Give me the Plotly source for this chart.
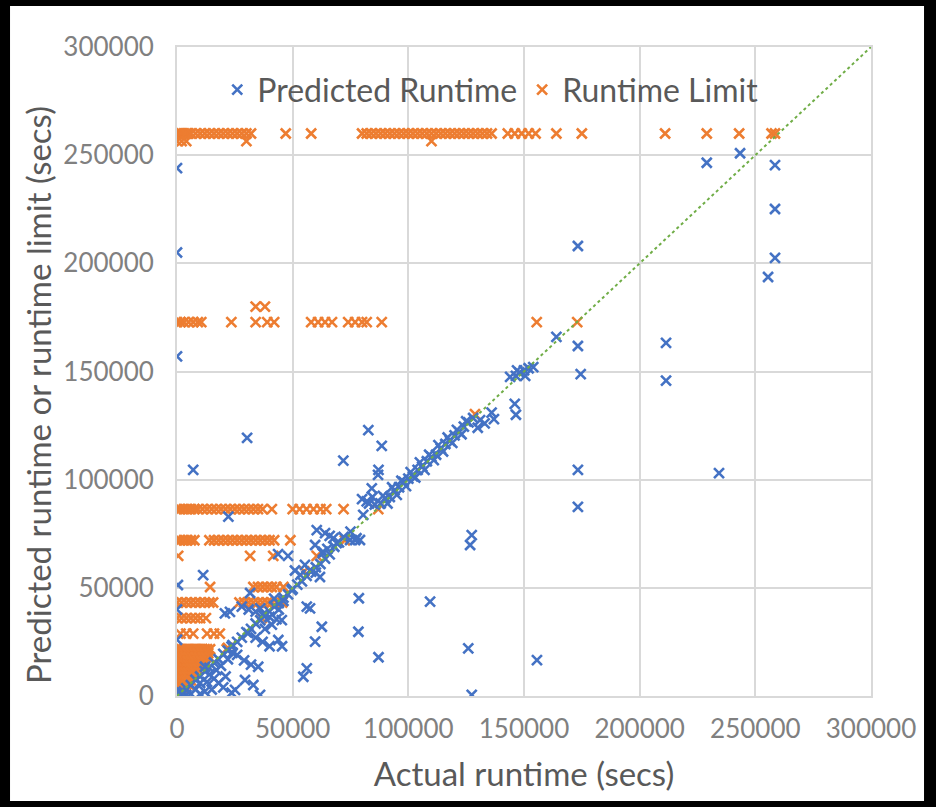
import plotly.graph_objects as go

BLUE = "#4472C4"
ORANGE = "#ED7D31"
GREEN = "#70AD47"

# ---------------- Predicted Runtime (blue) ----------------
pred_x = [
    0, 0, 0, 229000, 243400, 258500, 258500, 258500, 255500,
    173300, 173300, 174500, 211400, 211400, 173300, 173300, 234300, 164000,
    30300, 7000, 71900, 82700, 88500, 87100, 86900, 84200,
    22200, 11300, 400, 78600, 109400, 127400, 126700, 57500, 62600, 59700, 78400, 87100, 56100, 54600, 125900, 127400, 155600,
    144000, 146500, 148000, 150000, 152000, 154000, 147000, 150500, 146000, 146500, 130000, 133000, 136000, 137000, 131000,
    88000, 90000, 92000, 94000, 96000, 98000, 100000, 102000, 104000, 106000, 108000, 110000, 112000, 114000, 116000,
    118000, 120000, 122000, 124000, 126000, 128000,
    91000, 95000, 99000, 103000, 107000, 111000, 115000, 119000, 123000, 97000, 101000, 105000, 109000, 113000, 117000,
    121000, 125000, 93000, 89000,
    80000, 82000, 84500, 80500, 83000, 85500,
    64000, 67600, 74800, 77000, 79100, 59700, 63100, 43700, 48000, 55300, 57500, 60000, 61800, 51000, 53300, 49600, 56100,
    60400, 66000, 69000, 77600, 31600, 63000, 65000, 70000, 72000, 75000, 68000,
    20700, 22900, 28000, 31000, 34000, 37000, 40000, 43000, 45300, 30800, 34000, 37000, 40000, 43800, 45400, 23600, 26000,
    29000, 32000, 35100, 25100, 29400, 33000, 35900, 38000, 41000, 44000, 46000, 36000, 42000,
    12100, 14000, 16000, 18000, 20000, 21000, 23600, 15000, 13000, 17000, 19000, 22000, 24000, 10000, 8000, 6000, 4000,
    2000, 1000, 3000, 12000, 10000,
    2000, 4000, 6000, 8000, 10000, 12000, 14000, 16000, 18000, 20000, 22000, 24000, 26000, 28000, 30000, 32000, 34000,
    36000, 38000, 40000, 42000, 44000, 46000, 48000, 50000, 52000, 54000, 56000, 58000, 60000, 62000, 64000, 66000,
    0, 0,
]
pred_y = [
    244000, 205000, 157000, 246500, 250900, 245400, 225100, 202500, 193700,
    208000, 161800, 148800, 163200, 145800, 104500, 87400, 103000, 166000,
    119300, 104500, 108800, 122900, 115600, 104500, 102200, 96000,
    82900, 55900, 51300, 45200, 43600, 74400, 69800, 40500, 32000, 25100, 29700, 17900, 12800, 8900, 22000, 500, 16600,
    147500, 148000, 149500, 150500, 151500, 152000, 150500, 148000, 135000, 130000, 124000, 126000, 131000, 128000, 127500,
    89000, 91500, 92000, 95000, 96500, 99000, 100500, 101500, 104500, 106000, 108500, 110500, 111500, 114500, 116500,
    118000, 120500, 122000, 124500, 126500, 128500,
    89000, 93000, 97000, 101000, 104500, 109000, 113000, 117000, 121000, 99500, 103500, 108000, 111500, 116000, 119500,
    123000, 127000, 96500, 92500,
    91000, 90000, 92000, 83700, 89000, 88500,
    75300, 73000, 72100, 72100, 72100, 69800, 66700, 65600, 64800, 60600, 58000, 57000, 55000, 58000, 56000, 49000, 41300,
    76700, 74000, 70700, 72900, 47600, 66000, 68000, 71000, 73500, 76000, 69000,
    38200, 38900, 41300, 40000, 39000, 37500, 36500, 35500, 35100, 29100, 27000, 25000, 23000, 25900, 23000, 22800, 19000,
    16500, 14500, 13500, 2800, 7400, 5100, 500, 31000, 33000, 40000, 44000, 40500, 45000,
    13500, 10000, 8000, 6000, 4000, 9000, 1500, 3000, 6500, 12000, 14000, 17000, 20000, 6000, 3000, 1000, 500,
    300, 1500, 2000, 2000, 1000,
    1500, 3500, 5000, 7500, 9000, 11500, 13000, 15500, 17000, 19500, 21000, 23500, 25000, 27000, 29500, 31000, 33500,
    35000, 37500, 39000, 41500, 43000, 45500, 47000, 49500, 51500, 53000, 55500, 57500, 59500, 61000, 63500, 65500,
    26000, 40000,
]

# ---------------- Runtime Limit (orange), grouped by limit level ----------------
limit_levels = [260000, 256500, 180000, 172800, 86400, 72000, 64800, 50400, 43200, 36000, 28800,
                21600, 19800, 18000, 16200, 14400, 12600, 10800, 9000, 7200, 5400, 3600, 1800, 900]
limit_actuals = [
    [0, 1000, 2000, 3000, 4000, 5000, 6000, 8000, 10000, 12000, 14000, 16000, 18000, 20000, 22000, 24000, 26000,
     28000, 30000, 32000, 47000, 58000, 80000, 82000, 84000, 86000, 88000, 90000, 92000, 94000, 96000, 98000, 100000,
     102000, 104000, 106000, 108000, 110000, 112000, 114000, 116000, 118000, 120000, 122000, 124000, 126000, 128000,
     130000, 132000, 134000, 136000, 143000, 146000, 149000, 152000, 155000, 164000, 175000, 211000, 229000, 243000,
     257000, 258500],
    [0, 2000, 4000, 30000, 110000],
    [34000, 38000],
    [0, 1500, 3000, 5000, 7000, 9000, 10500, 23500, 34000, 39000, 42000, 58000, 61000, 64000, 67000, 74000, 77000,
     80000, 82000, 88500, 155500, 173000],
    [0, 1500, 3000, 4500, 6000, 7500, 9000, 11000, 13000, 15000, 17000, 19000, 21000, 23000, 25000, 27000, 29000,
     31000, 33000, 35000, 37000, 41000, 50000, 53000, 56000, 59000, 62000, 64500, 72000, 87000],
    [0, 1500, 3000, 4500, 6000, 7500, 14000, 16000, 18000, 20000, 22000, 24000, 26000, 28000, 30000, 32000, 34000,
     36000, 38000, 40000, 42000, 49000, 72600],
    [500, 31600, 41600, 60400],
    [14300, 33000, 35000, 37000, 39000, 41000, 43000, 46000],
    [0, 2000, 4000, 6000, 8000, 10000, 12000, 14000, 15600, 27000, 29000, 31000, 33000, 35000, 37000, 39000, 41000,
     43000, 45500],
    [0, 2000, 4000, 6000, 8000, 10000, 12500, 36600],
    [1500, 4000, 7000, 13000, 16000, 18500],
    [0, 1000, 2000, 3000, 4000, 5000, 6000, 7000, 8000, 9000, 10000, 11000, 12000, 13000, 14300, 21500],
    [0, 1500, 3000, 4500, 6000, 7500, 9000, 10500, 12000, 13500],
    [0, 1200, 2500, 3800, 5000, 6500, 8000, 9500, 11000, 12500, 14000],
    [0, 1500, 3000, 4500, 6000, 7500, 9000, 10500, 12000],
    [0, 1000, 2200, 3500, 4800, 6000, 7200, 8500, 10000, 11000],
    [0, 1500, 3000, 4500, 6000, 7500, 9000],
    [0, 1200, 2400, 3600, 4800, 6000, 7200, 8000],
    [0, 1500, 3000, 4500, 6000, 7000],
    [0, 1000, 2000, 3000, 4000, 5000, 6000],
    [0, 1300, 2600, 3900, 5000],
    [0, 900, 1800, 2700, 3500],
    [0, 600, 1200, 1800],
    [0, 400, 900],
]
extra_limit_x = [55000, 128800, 22000]
extra_limit_y = [57600, 130300, 22200]

limit_x, limit_y = [], []
for level, xs in zip(limit_levels, limit_actuals):
    limit_x.extend(xs)
    limit_y.extend([level] * len(xs))
limit_x.extend(extra_limit_x)
limit_y.extend(extra_limit_y)

# ideal prediction line
diag_x = [0, 300000]
diag_y = [0, 300000]

tick_vals = [0, 50000, 100000, 150000, 200000, 250000, 300000]
tick_text = ["0", "50000", "100000", "150000", "200000", "250000", "300000"]

FONT = "Lato"
MARK = dict(symbol="x-thin", size=10)

fig = go.Figure()
fig.add_trace(go.Scatter(
    x=limit_x, y=limit_y, mode="markers", name="Runtime Limit", legendrank=2,
    marker=dict(MARK, color=ORANGE, line=dict(width=2.6, color=ORANGE)),
))
fig.add_trace(go.Scatter(
    x=pred_x, y=pred_y, mode="markers", name="Predicted Runtime", legendrank=1,
    marker=dict(MARK, color=BLUE, line=dict(width=2.6, color=BLUE)),
))
fig.add_trace(go.Scatter(
    x=diag_x, y=diag_y, mode="lines", showlegend=False, hoverinfo="skip",
    line=dict(color=GREEN, width=2, dash="dot"),
))

axis_common = dict(
    range=[0, 300000], tickvals=tick_vals, ticktext=tick_text, automargin=False,
    showgrid=True, gridcolor="#D9D9D9", gridwidth=2,
    zeroline=False, showline=True, linecolor="#D9D9D9", linewidth=2, mirror=True,
    ticks="outside", tickcolor="rgba(0,0,0,0)",
    tickfont=dict(family=FONT, size=26, color="#808080"),
)

fig.update_layout(
    width=936, height=807,
    margin=dict(l=177, r=65, t=47, b=111, autoexpand=False),
    paper_bgcolor="black", plot_bgcolor="white",
    font=dict(family=FONT, color="#595959"),
    shapes=[dict(type="rect", xref="paper", yref="paper",
                 x0=-0.2406, x1=1.0764, y0=-0.1618, y1=1.0632,
                 fillcolor="white", line=dict(width=0), layer="below")],
    xaxis=dict(axis_common, ticklen=9,
               title=dict(text="Actual runtime (secs)", standoff=20,
                          font=dict(family=FONT, size=33, color="#595959"))),
    yaxis=dict(axis_common, ticklen=16),
    annotations=[dict(text="Predicted runtime or runtime limit (secs)", xref="paper", yref="paper",
                      x=-0.2003, y=0.4638, xanchor="center", yanchor="middle", textangle=-90,
                      showarrow=False, font=dict(family=FONT, size=33, color="#595959"))],
    legend=dict(orientation="h", x=0.058, y=0.934, xanchor="left", yanchor="middle",
                bgcolor="rgba(0,0,0,0)", font=dict(family=FONT, size=32, color="#595959"),
                itemwidth=30, traceorder="normal"),
    showlegend=True,
)

fig.write_html(
    "out.html",
    config={"displayModeBar": False},
    post_script="document.body.style.margin='0';document.body.style.background='black';"
                "document.body.style.overflow='hidden';",
)
